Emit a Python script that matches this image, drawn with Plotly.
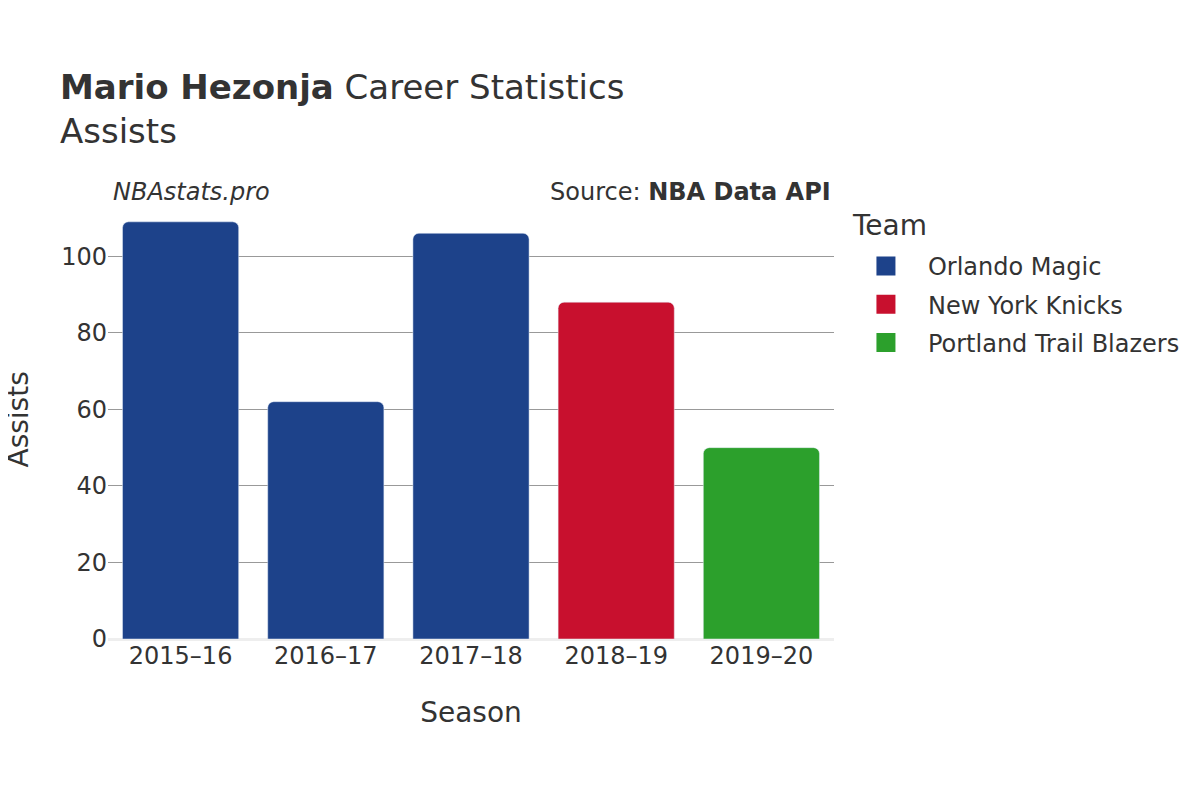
import plotly.graph_objects as go

seasons = ['2015–16', '2016–17', '2017–18', '2018–19', '2019–20']
assists = [109, 62, 106, 88, 50]
teams = ['Orlando Magic', 'Orlando Magic', 'Orlando Magic', 'New York Knicks', 'Portland Trail Blazers']
team_order = ['Orlando Magic', 'New York Knicks', 'Portland Trail Blazers']
team_colors = {'Orlando Magic': '#1D428A', 'New York Knicks': '#C8102E',
               'Portland Trail Blazers': '#2CA02C'}

font = 'DejaVu Sans'
txt = '#333333'

fig = go.Figure()
for team in team_order:
    xs = [s for s, t in zip(seasons, teams) if t == team]
    ys = [a for a, t in zip(assists, teams) if t == team]
    fig.add_trace(go.Bar(x=xs, y=ys, name=team, marker_color=team_colors[team],
                         legendgroup=team, showlegend=False))
    # legend-only entry with a bigger swatch
    fig.add_trace(go.Scatter(x=[xs[0]], y=[None], name=team, mode='markers',
                             legendgroup=team,
                             marker=dict(symbol='square', size=21, color=team_colors[team],
                                         line=dict(color=team_colors[team], width=3))))

fig.update_layout(
    width=1200, height=800,
    barmode='relative', bargap=0.2, barcornerradius=6,
    plot_bgcolor='white', paper_bgcolor='white',
    font=dict(family=font, color=txt, size=24),
    margin=dict(l=100, r=374, t=192, b=169),
    title=dict(text='<b>Mario Hezonja</b> Career Statistics<br>Assists',
               x=0.0433, xanchor='left', y=0.886, yanchor='top',
               font=dict(size=34, color=txt)),
    legend=dict(font=dict(size=24),
                x=1.0137, xanchor='left', y=0.90, yanchor='top',
                itemwidth=74, tracegroupgap=4),
    xaxis=dict(title=dict(text='Season', font=dict(size=28), standoff=33),
               categoryorder='array', categoryarray=seasons, automargin=False,
               tickfont=dict(size=24), showgrid=False),
    yaxis=dict(tickfont=dict(size=24), dtick=20, range=[0, 114.7], automargin=False,
               showgrid=True, gridcolor='#999999', gridwidth=1,
               zeroline=True, zerolinecolor='#eeeeee', zerolinewidth=3),
)

# y axis title
fig.add_annotation(text='Assists', x=-0.1226, xref='paper', xanchor='center',
                   y=0.5, yref='paper', yanchor='middle', textangle=-90,
                   showarrow=False, font=dict(size=28))
fig.add_annotation(text='Team', x=1.022, xref='paper', xanchor='left',
                   y=0.9408, yref='paper', yanchor='middle', showarrow=False,
                   font=dict(size=28))
fig.add_annotation(text='<i>NBAstats.pro</i>', x=0.0039, xref='paper', xanchor='left',
                   y=1.018, yref='paper', yanchor='middle', showarrow=False,
                   font=dict(size=24))
fig.add_annotation(text='Source: <b>NBA Data API</b>', x=0.999, xref='paper', xanchor='right',
                   y=1.018, yref='paper', yanchor='middle', showarrow=False,
                   font=dict(size=24))

fig.write_html('out.html')
